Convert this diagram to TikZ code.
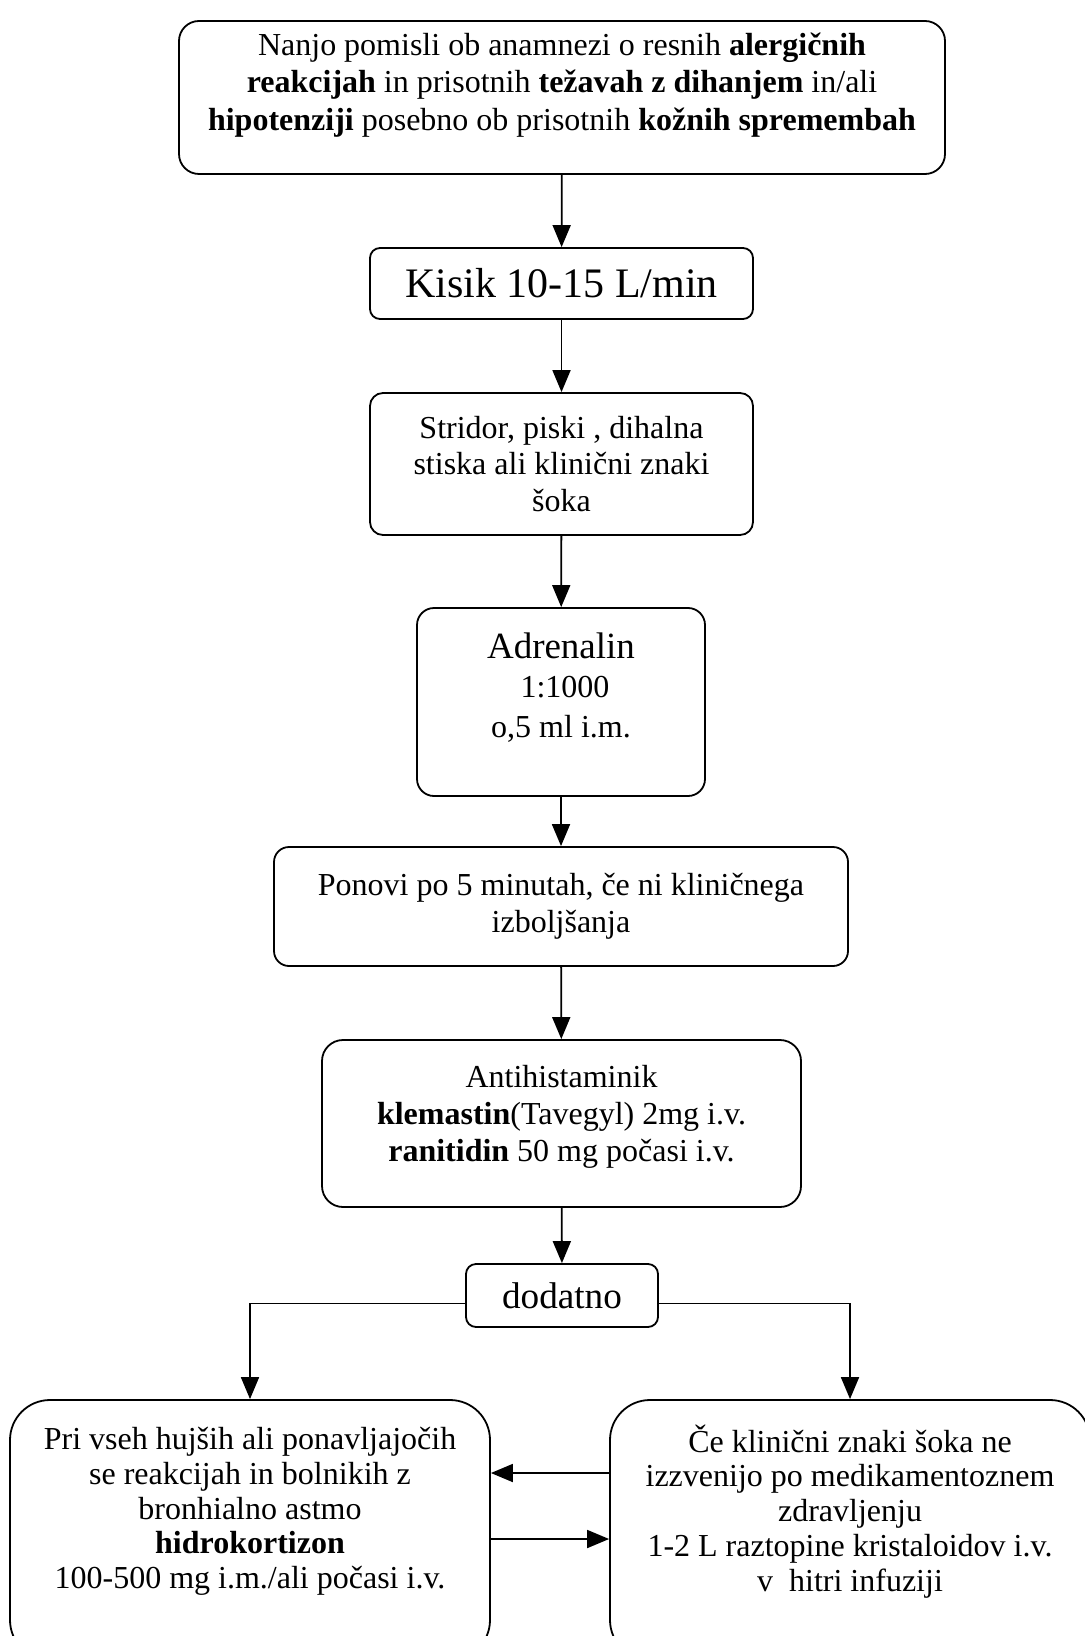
\documentclass[tikz,border=0pt]{standalone}
\usepackage{fontspec}
\setmainfont{Liberation Serif}
\usetikzlibrary{arrows.meta}

\begin{document}
\begin{tikzpicture}[x=0.5pt,y=-0.5pt,
  box/.style={draw, line width=0.9pt, rounded corners=#1, align=center,
    inner sep=0pt, font=\fontsize{16}{18.4}\selectfont},
  box/.default=6pt,
  arr/.style={-{Triangle[length=11pt,width=9pt]}, line width=0.9pt}]
  \useasboundingbox (0,0) rectangle (1085,1636);
  \clip (0,0) rectangle (1085,1636);
  % boxes, top to bottom
  \node [box=10pt, minimum width=383pt, minimum height=76.5pt, text depth=16pt,
    font=\fontsize{16}{18.8}\selectfont]
    (start) at (562,97.5) {Nanjo pomisli ob anamnezi o resnih \textbf{alergičnih}\\
    \textbf{reakcijah} in prisotnih \textbf{težavah z dihanjem} in/ali\\
    \textbf{hipotenziji} posebno ob prisotnih \textbf{kožnih spremembah}};
  \node [box=5pt, minimum width=191.5pt, minimum height=35.5pt,
    font=\fontsize{21}{24}\selectfont] (kisik) at (561.5,283.5) {Kisik 10-15 L/min};
  \node [box=6.5pt, minimum width=191.5pt, minimum height=71pt]
    (stridor) at (561.5,464) {Stridor, piski , dihalna\\stiska ali klinični znaki\\šoka};
  \node [box=8.5pt, minimum width=144pt, minimum height=94pt, text depth=17pt,
    font=\fontsize{16}{19.8}\selectfont]
    (adrenalin) at (561,702) {{\fontsize{18.5}{19.8}\selectfont Adrenalin}\\~1:1000\\o,5 ml i.m.};
  \node [box=7.5pt, minimum width=287pt, minimum height=59.5pt]
    (ponovi) at (561,906.5) {Ponovi po 5 minutah, če ni kliničnega\\izboljšanja};
  \node [box=10.5pt, minimum width=239.5pt, minimum height=83.5pt, text depth=10pt]
    (antihist) at (561.5,1123.5) {Antihistaminik\\\textbf{klemastin}(Tavegyl) 2mg i.v.\\
    \textbf{ranitidin} 50 mg počasi i.v.};
  \node [box=5pt, minimum width=96pt, minimum height=31.5pt,
    font=\fontsize{18.6}{21}\selectfont] (dodatno) at (562,1295.5) {dodatno};
  \node [box=20pt, minimum width=240pt, minimum height=130pt, text depth=22pt,
    font=\fontsize{16}{17.4}\selectfont]
    (hidro) at (250,1530) {Pri vseh hujših ali ponavljajočih\\se reakcijah in bolnikih z\\
    bronhialno astmo\\\textbf{hidrokortizon}\\100-500 mg i.m./ali počasi i.v.};
  \node [box=20pt, minimum width=240pt, minimum height=130pt, text depth=22pt,
    font=\fontsize{16}{17.4}\selectfont]
    (kristal) at (850,1530) {Če klinični znaki šoka ne\\izzvenijo po medikamentoznem\\
    zdravljenju\\1-2 L raztopine kristaloidov i.v.\\v~~hitri infuziji};
  % connectors
  \draw [arr] (start) -- (kisik);
  \draw [arr] (kisik) -- (stridor);
  \draw [arr] (stridor) -- (adrenalin);
  \draw [arr] (adrenalin) -- (ponovi);
  \draw [arr] (ponovi) -- (antihist);
  \draw [arr] (antihist) -- (dodatno);
  \draw [arr] ([yshift=-4pt]dodatno.west) -| (hidro.north);
  \draw [arr] ([yshift=-4pt]dodatno.east) -| (kristal.north);
  \draw [arr] ([yshift=28.5pt]kristal.west) -- ([yshift=28.5pt]hidro.east);
  \draw [arr] ([yshift=-4.5pt]hidro.east) -- ([yshift=-4.5pt]kristal.west);
\end{tikzpicture}
\end{document}
